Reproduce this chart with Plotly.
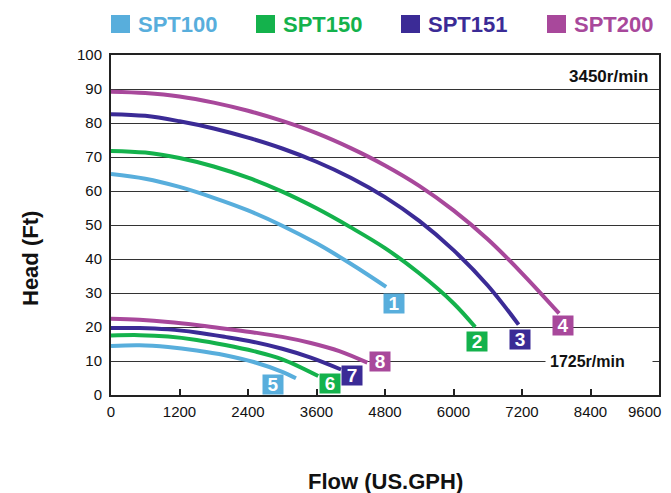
import plotly.graph_objects as go

# ---------------- data ----------------
series = ["SPT100", "SPT150", "SPT151", "SPT200"]
colors = ["#58AEDC", "#14B24C", "#3B2B96", "#A8489B"]

# 3450 r/min curves (flow in US.GPH, head in Ft)
flow_3450_spt100 = [0, 600, 1200, 1800, 2400, 3000, 3600, 4200, 4820]
head_3450_spt100 = [65.0, 63.6, 61.2, 58.0, 54.3, 49.8, 44.6, 38.6, 31.8]

flow_3450_spt150 = [0, 600, 1200, 1800, 2400, 3000, 3600, 4200, 4800, 5400, 6000, 6380]
head_3450_spt150 = [71.8, 71.3, 69.7, 67.2, 63.9, 59.8, 54.9, 49.3, 43.2, 35.8, 27.0, 20.0]

flow_3450_spt151 = [0, 600, 1200, 1800, 2400, 3000, 3600, 4200, 4800, 5400, 6000, 6600, 7140]
head_3450_spt151 = [82.6, 82.1, 80.5, 78.4, 75.7, 72.5, 68.6, 63.9, 58.2, 51.2, 42.6, 32.2, 20.7]

flow_3450_spt200 = [0, 600, 1200, 1800, 2400, 3000, 3600, 4200, 4800, 5400, 6000, 6600, 7200, 7850]
head_3450_spt200 = [89.2, 88.8, 87.8, 86.0, 83.6, 80.6, 77.0, 72.6, 67.5, 61.5, 54.3, 45.8, 35.8, 24.0]

# 1725 r/min curves
flow_1725_spt100 = [0, 500, 1000, 1500, 2000, 2500, 3000, 3240]
head_1725_spt100 = [14.4, 14.6, 14.1, 13.1, 11.7, 9.7, 6.8, 4.9]

flow_1725_spt150 = [0, 500, 1000, 1500, 2000, 2500, 3000, 3630]
head_1725_spt150 = [17.5, 17.6, 17.2, 16.2, 14.7, 12.9, 10.5, 5.6]

flow_1725_spt151 = [0, 500, 1000, 1500, 2000, 2500, 3000, 3500, 4030]
head_1725_spt151 = [19.7, 19.7, 19.3, 18.4, 17.1, 15.6, 13.6, 11.0, 7.5]

flow_1725_spt200 = [0, 500, 1000, 1500, 2000, 2500, 3000, 3500, 4000, 4490]
head_1725_spt200 = [22.4, 22.1, 21.5, 20.6, 19.5, 18.4, 17.1, 15.3, 12.9, 9.5]

curve_numbers_3450 = ["1", "2", "3", "4"]
curve_numbers_1725 = ["5", "6", "7", "8"]

x_tickvals = [0, 1200, 2400, 3600, 4800, 6000, 7200, 8400, 9600]
x_ticktext = ["0", "1200", "2400", "3600", "4800", "6000", "7200", "8400", "9600"]
y_tickvals = [0, 10, 20, 30, 40, 50, 60, 70, 80, 90, 100]

speed_hi = "3450r/min"
speed_lo = "1725r/min"
x_title = "Flow (US.GPH)"
y_title = "Head (Ft)"

# ---------------- layout geometry ----------------
# page body has an 8px margin, so the figure is drawn offset by (8, 8)
OX, OY = 8, 8
SW, SH = 671, 493                 # screen size
W, H = SW - OX, SH - OY           # figure size
PL, PR, PT, PB = 111, 659, 55, 395   # plot box in screen pixels
L, R, T, B = PL - OX, W - (PR - OX), PT - OY, H - (PB - OY)
PW, PH = PR - PL, PB - PT


def pxx(x):
    return (x - PL) / PW


def pxy(y):
    return (PB - y) / PH


FONT = "Liberation Sans, Arial, sans-serif"

hi_flows = [flow_3450_spt100, flow_3450_spt150, flow_3450_spt151, flow_3450_spt200]
hi_heads = [head_3450_spt100, head_3450_spt150, head_3450_spt151, head_3450_spt200]
lo_flows = [flow_1725_spt100, flow_1725_spt150, flow_1725_spt151, flow_1725_spt200]
lo_heads = [head_1725_spt100, head_1725_spt150, head_1725_spt151, head_1725_spt200]

fig = go.Figure()
for i in range(4):
    for fx, hy in ((hi_flows[i], hi_heads[i]), (lo_flows[i], lo_heads[i])):
        fig.add_trace(go.Scatter(
            x=fx, y=hy, mode="lines", name=series[i], showlegend=False,
            line=dict(color=colors[i], width=4, shape="spline", smoothing=1.0),
            hoverinfo="skip"))

annotations = []
shapes = []

# legend (squares + coloured names)
leg_sq_left = [111, 256, 401, 547]
for i in range(4):
    x0 = leg_sq_left[i]
    shapes.append(dict(type="rect", xref="paper", yref="paper",
                       x0=pxx(x0), x1=pxx(x0 + 19), y0=pxy(33), y1=pxy(15),
                       fillcolor=colors[i], line=dict(width=0)))
    annotations.append(dict(xref="paper", yref="paper", x=pxx(x0 + 25), y=pxy(24.5),
                            xanchor="left", yanchor="middle", showarrow=False,
                            text="<b>%s</b>" % series[i],
                            font=dict(family=FONT, size=22, color=colors[i])))

# numbered end labels (pixel centres, converted to paper)
label_pos_hi = [(394, 303.5), (477.5, 341), (520, 339), (562.5, 325.5)]
label_pos_lo = [(273, 384), (330, 383), (351.5, 375.5), (380, 361.5)]
for i in range(4):
    for (cx, cy), txt in ((label_pos_hi[i], curve_numbers_3450[i]), (label_pos_lo[i], curve_numbers_1725[i])):
        annotations.append(dict(xref="paper", yref="paper", x=pxx(cx), y=pxy(cy),
                                xanchor="center", yanchor="middle", showarrow=False,
                                text="<b>%s</b>" % txt, bgcolor=colors[i],
                                width=20, height=19, borderpad=0,
                                font=dict(family=FONT, size=19, color="white")))

# speed labels
annotations.append(dict(xref="paper", yref="paper", x=pxx(650), y=pxy(76),
                        xanchor="right", yanchor="middle", showarrow=False,
                        text="<b>%s</b>" % speed_hi,
                        font=dict(family=FONT, size=17, color="#111")))
annotations.append(dict(xref="paper", yref="y", x=pxx(545), y=10,
                        xanchor="left", yanchor="middle", showarrow=False,
                        text="<b>%s</b>" % speed_lo, bgcolor="white",
                        width=98, align="left", borderpad=4,
                        font=dict(family=FONT, size=16, color="#111")))

# last x tick label drawn slightly left so it stays inside the page
annotations.append(dict(xref="x", yref="paper", x=x_tickvals[-1], y=pxy(411),
                        xanchor="right", yanchor="middle", showarrow=False, xshift=3,
                        text=x_ticktext[-1], borderpad=0,
                        font=dict(family=FONT, size=15, color="#111")))

# axis titles
annotations.append(dict(xref="paper", yref="paper", x=pxx(30), y=pxy(258),
                        xanchor="center", yanchor="middle", showarrow=False, textangle=-90,
                        text="<b>%s</b>" % y_title,
                        font=dict(family=FONT, size=22, color="#111")))
annotations.append(dict(xref="paper", yref="paper", x=pxx(385), y=pxy(481),
                        xanchor="center", yanchor="middle", showarrow=False,
                        text="<b>%s</b>" % x_title,
                        font=dict(family=FONT, size=22, color="#111")))

fig.update_layout(
    width=W, height=H, template="none",
    margin=dict(l=L, r=R, t=T, b=B, pad=0),
    paper_bgcolor="white", plot_bgcolor="white",
    font=dict(family=FONT, size=15, color="#111"),
    annotations=annotations, shapes=shapes,
    showlegend=False,
)
fig.update_xaxes(range=[0, 9600], tickvals=x_tickvals,
                 ticktext=x_ticktext[:-1] + [""],
                 ticks="inside", ticklen=6, tickwidth=1.5, tickcolor="#222",
                 showgrid=False, zeroline=False, showline=True, linewidth=2,
                 linecolor="#222", mirror=True, ticklabelstandoff=2,
                 ticklabeloverflow="allow",
                 tickfont=dict(family=FONT, size=15, color="#111"), automargin=False)
fig.update_yaxes(range=[0, 100], tickvals=y_tickvals,
                 ticks="", showgrid=True, gridcolor="#333", gridwidth=1.4,
                 zeroline=False, showline=True, linewidth=2, linecolor="#222",
                 mirror=True, ticklabelstandoff=4, ticklabeloverflow="allow",
                 tickfont=dict(family=FONT, size=15, color="#111"), automargin=False)

fig.write_html("out.html")
